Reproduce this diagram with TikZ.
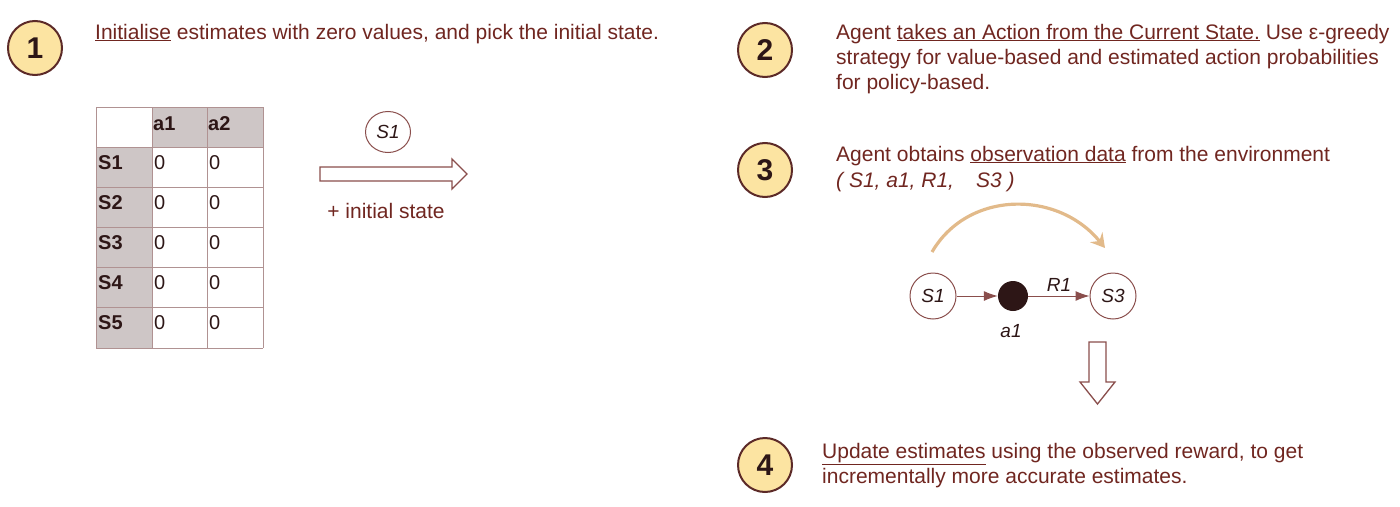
\documentclass[tikz,border=0pt]{standalone}
\usepackage{fontspec}
\setmainfont{Liberation Sans}
\usetikzlibrary{arrows.meta,shapes.geometric}
\definecolor{txt}{RGB}{112,38,32}
\definecolor{circf}{RGB}{252,228,162}
\definecolor{circb}{RGB}{92,42,40}
\definecolor{gridc}{RGB}{176,146,146}
\definecolor{cellg}{RGB}{206,198,198}
\definecolor{hollowc}{RGB}{138,78,76}
\definecolor{curvec}{RGB}{226,186,138}
\definecolor{darkt}{RGB}{45,22,22}
\begin{document}
\begin{tikzpicture}[x=1pt,y=-1pt,
  every node/.style={font=\fontsize{21}{25}\selectfont, text=txt, inner sep=0pt},
  numc/.style={circle, draw=circb, line width=2pt, fill=circf, minimum size=54pt,
    font=\fontsize{30}{30}\selectfont\bfseries, text=darkt},
  line/.style={anchor=base west},
  hdr/.style={anchor=base west, font=\fontsize{20}{20}\selectfont\bfseries, text=darkt},
  val/.style={anchor=base west, font=\fontsize{20}{20}\selectfont, text=darkt},
  state/.style={circle, draw=hollowc, line width=1pt, minimum size=46pt,
    font=\fontsize{19}{19}\selectfont\itshape, text=darkt},
  ilabel/.style={font=\fontsize{19}{19}\selectfont\itshape, text=darkt},
  hollow/.style={draw=hollowc, line width=1.3pt, fill=white, line join=miter},
  small/.style={draw=hollowc, line width=1pt, -{Latex[length=14pt,width=10pt]}}
]
\useasboundingbox (0,0) rectangle (1400,506);

% ---------- step 1 ----------
\node[numc] (n1) at (35,48) {1};
\node[line] (t1) at (95,39) {\underline{Initialise} estimates with zero values, and pick the initial state.};

% table
\fill[cellg] (152,107) rectangle (263,147);
\fill[cellg] (96,147) rectangle (152,348);
\foreach \x in {96,152,207,263} \draw[gridc, line width=1pt] (\x,107) -- (\x,348);
\foreach \y in {107,147,187,227,267,307,348} \draw[gridc, line width=1pt] (96,\y) -- (263,\y);
\node[hdr] (ha1) at (153,130) {a1};
\node[hdr] (ha2) at (208,130) {a2};
\foreach \r/\yy in {1/147,2/187,3/227,4/267,5/307}{
  \node[hdr] (hs\r) at (98,\yy+22) {S\r};
  \node[val] (va\r) at (154,\yy+22) {0};
  \node[val] (vb\r) at (209,\yy+22) {0};
}

% initial state
\node[state, ellipse, minimum width=45pt, minimum height=41pt] (s0) at (388,132) {S1};
\draw[hollow] (320,167) -- (452,167) -- (452,159) -- (467,174) -- (452,189) -- (452,181) -- (320,181) -- cycle;
\node (init) at (386,211) {+ initial state};

% ---------- step 2 ----------
\node[numc] (n2) at (765,50) {2};
\node[line] (t2a) at (836,39) {Agent \underline{takes an Action from the Current State.} Use ε-greedy};
\node[line] (t2b) at (836,64) {strategy for value-based and estimated action probabilities};
\node[line] (t2c) at (836,89) {for policy-based.};

% ---------- step 3 ----------
\node[numc] (n3) at (765,170) {3};
\node[line] (t3a) at (836,161) {Agent obtains \underline{observation data} from the environment};
\node[line] (t3b) at (836,187) {\itshape ( S1, a1, R1,\hspace{22pt}S3 )};

\coordinate (cs) at (932,252);
\coordinate (ce) at (1105,248);
\draw[curvec, line width=3.2pt, -{Stealth[length=14pt,width=16pt,inset=5pt]}]
  (cs) .. controls (968,190) and (1058,190) .. (ce);

\node[state] (s1) at (933,296) {S1};
\node[circle, fill=darkt, minimum size=30pt] (dot) at (1013,296) {};
\node[state] (s3) at (1113,296) {S3};
\draw[small] (s1) -- (dot);
\draw[small] (dot) -- (s3);
\node[ilabel] (r1) at (1059,285) {R1};
\node[ilabel] (a1) at (1011,331) {a1};

\draw[hollow] (1089,342) -- (1106,342) -- (1106,382) -- (1115,382) -- (1097.5,404) -- (1080,382) -- (1089,382) -- cycle;

% ---------- step 4 ----------
\node[numc] (n4) at (765,465) {4};
\node[line] (t4a) at (822,458) {\underline{Update estimates} using the observed reward, to get};
\node[line] (t4b) at (822,483) {incrementally more accurate estimates.};
\end{tikzpicture}
\end{document}
